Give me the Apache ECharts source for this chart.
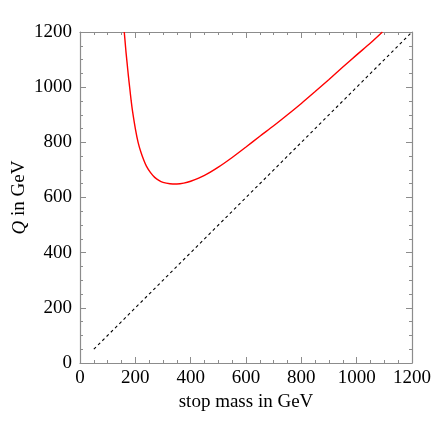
<!DOCTYPE html>
<html>
<head>
<meta charset="utf-8">
<script src="https://cdn.jsdelivr.net/npm/echarts@6/dist/echarts.min.js"></script>
<style>html,body{margin:0;padding:0;background:#fff;}#c{width:437px;height:437px;}</style>
</head>
<body>
<div id="c"></div>
<script>
const stopMass = [160,163,166,170,175,180,185,190,200,210,220,230,240,255,270,285,300,325,350,375,400,450,500,550,600,650,700,750,800,850,900,950,1000,1050,1093];
const qValues  = [1200,1165,1130,1090,1040,995,950,912,850,800,765,737,714,690,673,662,655,650,649,652,659,680,710,745,783,822,860,900,941,984,1028,1073,1117,1160,1200];
const diagX = [50,1200];
const diagY = [50,1200];
const tickValues = [0,200,400,600,800,1000,1200];

const FONT = '"Liberation Serif","DejaVu Serif",serif';
const axisColor = '#8c8c8c';
const chart = echarts.init(document.getElementById('c'));
function axisCommon(extra){
  return Object.assign({
    type:'value', min:tickValues[0], max:tickValues[tickValues.length-1], interval:200,
    axisLine:{show:true, onZero:false, lineStyle:{color:axisColor, width:1.2}},
    axisTick:{show:true, inside:true, length:6, lineStyle:{color:axisColor}},
    minorTick:{show:true, splitNumber:4, length:3, lineStyle:{color:axisColor}},
    splitLine:{show:false},
    axisLabel:{show:true, fontFamily:FONT, fontSize:19, color:'#000', margin:8, formatter:(v)=>String(v)}
  }, extra);
}
chart.setOption({
  animation:false,
  backgroundColor:'#fff',
  grid:{left:80, right:25, top:32, bottom:74, containLabel:false, outerBoundsMode:'none'},
  xAxis:[
    axisCommon({position:'bottom', name:'stop mass in GeV', nameLocation:'middle', nameGap:30, nameMoveOverlap:false,
      nameTextStyle:{fontFamily:FONT, fontSize:19, color:'#000'},
      axisLabel:{show:true, fontFamily:FONT, fontSize:19, color:'#000', margin:6, formatter:(v)=>String(v)}}),
    axisCommon({position:'top', axisLabel:{show:false}})
  ],
  yAxis:[
    axisCommon({position:'left', name:'{q|Q} in GeV', nameLocation:'middle', nameGap:51, nameMoveOverlap:false,
      nameTextStyle:{fontFamily:FONT, fontSize:19, color:'#000', rich:{q:{fontFamily:FONT, fontSize:19, fontStyle:'italic', color:'#000'}}}}),
    axisCommon({position:'right', axisLabel:{show:false}})
  ],
  series:[
    {type:'line', xAxisIndex:0, yAxisIndex:0, data:stopMass.map((m,i)=>[m,qValues[i]]), smooth:0.3, showSymbol:false,
     lineStyle:{color:'#ff0000', width:1.4}},
    {type:'line', xAxisIndex:0, yAxisIndex:0, data:diagX.map((m,i)=>[m,diagY[i]]), showSymbol:false,
     lineStyle:{color:'#000', width:1.1, type:[3,3]}}
  ]
});
</script>
</body>
</html>
